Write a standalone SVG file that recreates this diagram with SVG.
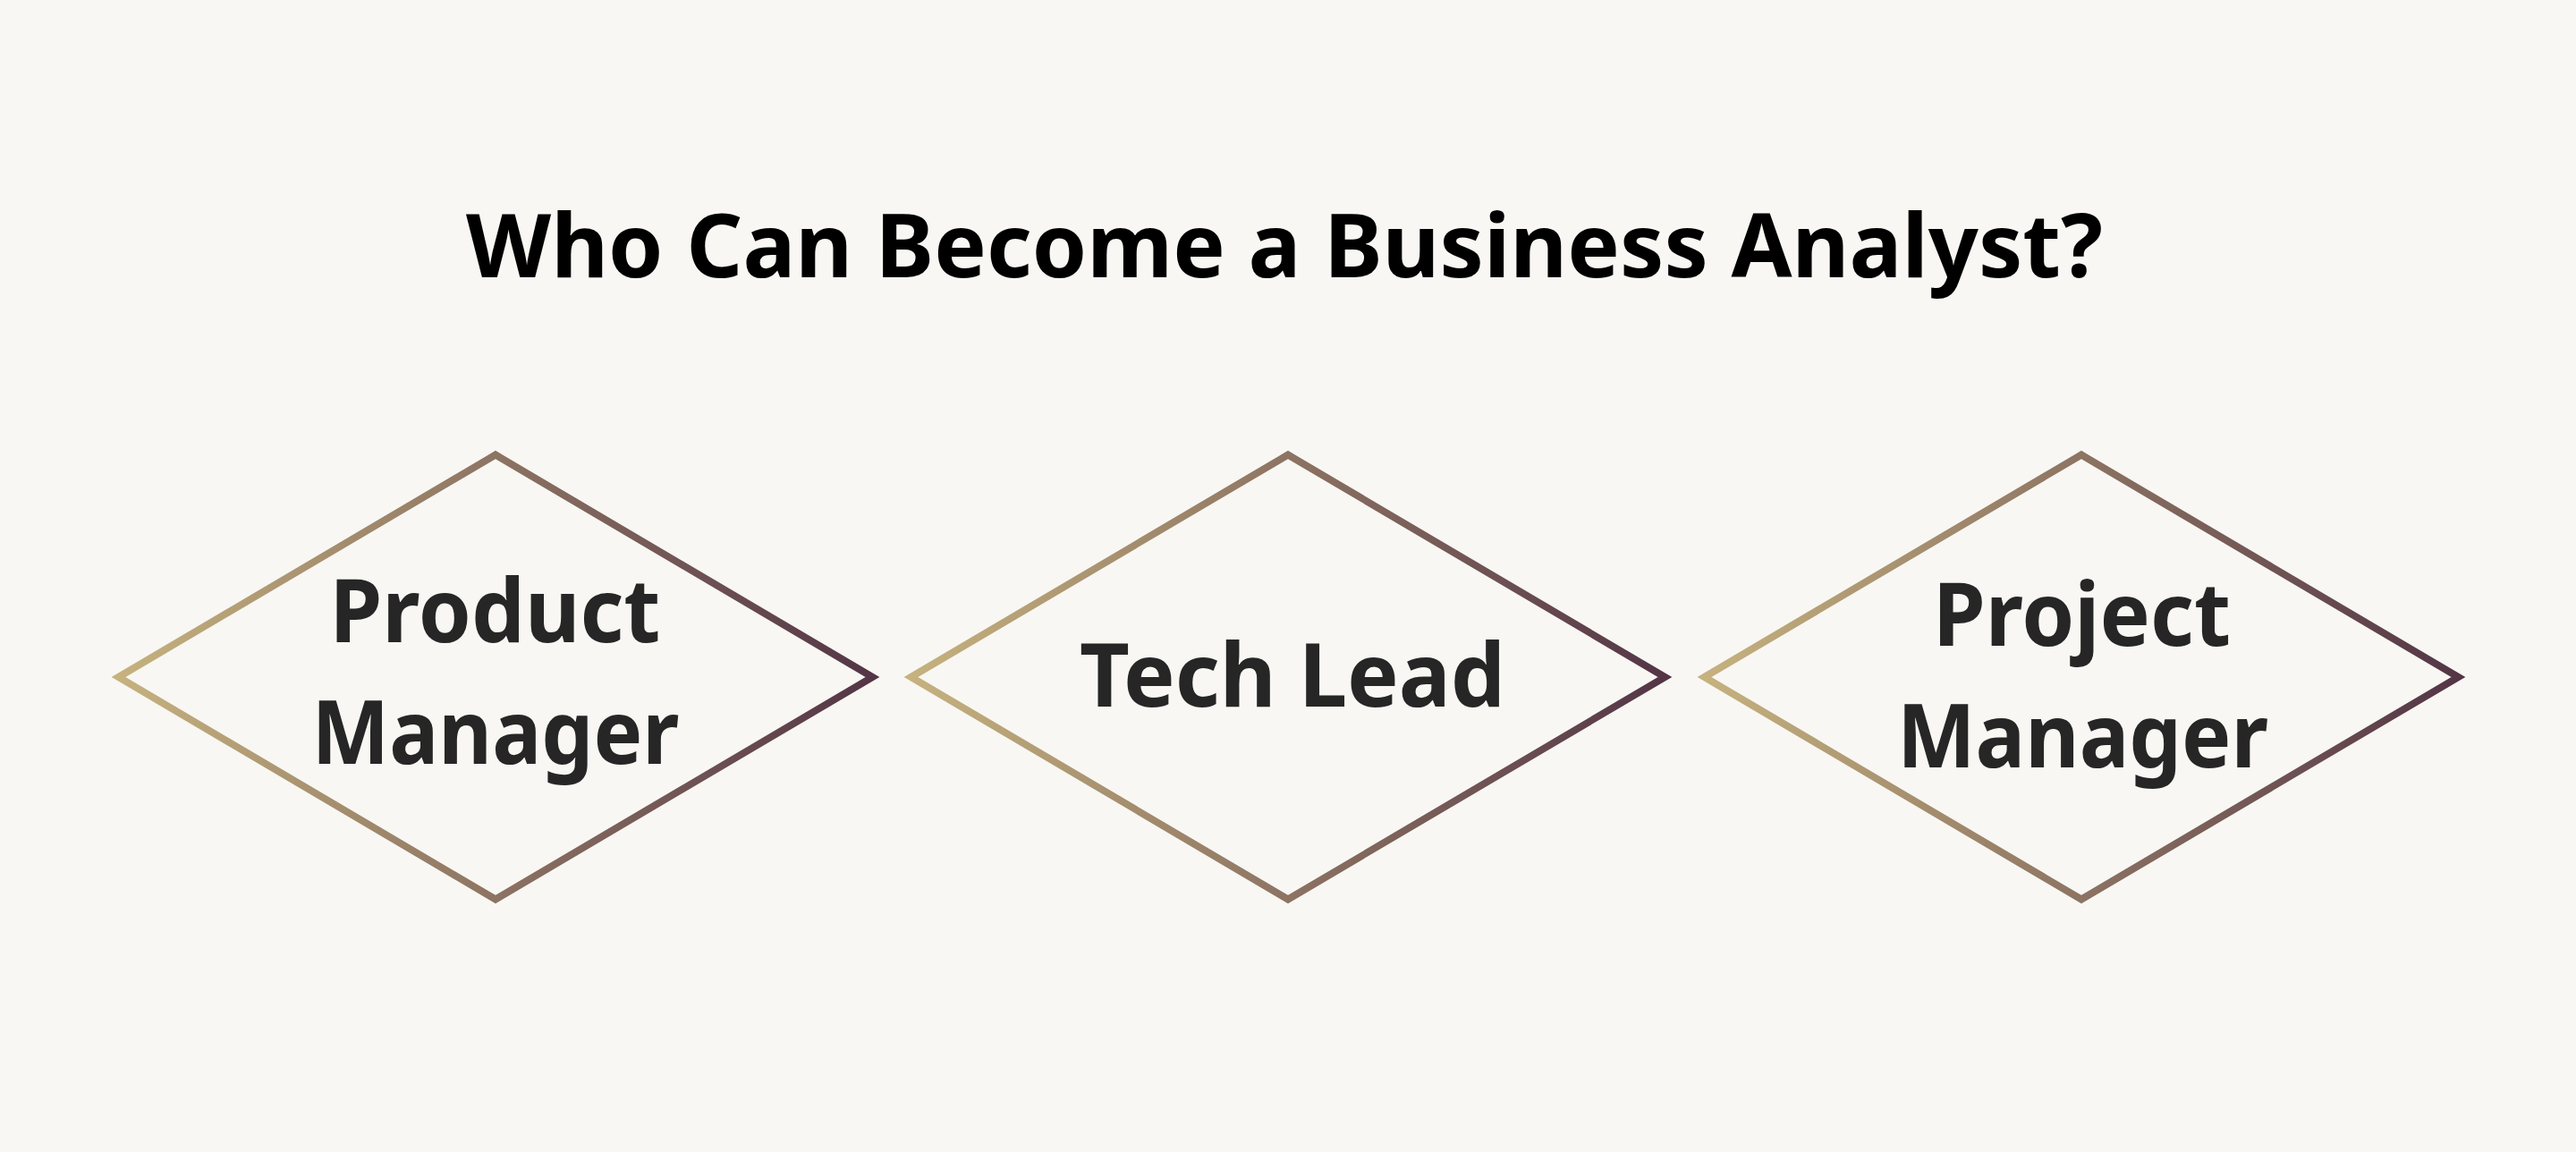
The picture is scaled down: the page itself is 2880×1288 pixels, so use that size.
<svg xmlns="http://www.w3.org/2000/svg" width="2880" height="1288" viewBox="0 0 2880 1288">
  <defs>
    <linearGradient id="edge" x1="0" y1="0" x2="1" y2="0">
      <stop offset="0" stop-color="#c6b27f"/>
      <stop offset="1" stop-color="#533546"/>
    </linearGradient>
    <style>
      .title { font-family: "Noto Sans", "Open Sans", sans-serif; font-weight: 700; font-size: 98px; fill: #000000; text-anchor: middle; }
      .label { font-family: "Noto Sans", "Open Sans", sans-serif; font-weight: 700; font-size: 98px; fill: #262626; text-anchor: middle; }
      .shape { fill: none; stroke: url(#edge); stroke-width: 8; stroke-linejoin: miter; }
    </style>
  </defs>
  <rect x="0" y="0" width="2880" height="1288" fill="#f8f7f3"/>
  <text class="title" x="1436" y="310" textLength="1830" lengthAdjust="spacingAndGlyphs">Who Can Become a Business Analyst?</text>
  <g id="connectors"></g>
  <g id="node-product-manager">
    <path class="shape" d="M132.5 757 L554 508.5 L975.5 757 L554 1005.5 Z"/>
    <text class="label" x="553.5" y="718" textLength="370" lengthAdjust="spacingAndGlyphs">Product</text>
    <text class="label" x="554" y="854" textLength="411" lengthAdjust="spacingAndGlyphs">Manager</text>
  </g>
  <g id="node-tech-lead">
    <path class="shape" d="M1018.5 757 L1440 508.5 L1861.5 757 L1440 1005.5 Z"/>
    <text class="label" x="1445" y="790" textLength="476" lengthAdjust="spacingAndGlyphs">Tech Lead</text>
  </g>
  <g id="node-project-manager">
    <path class="shape" d="M1905.5 757 L2327 508.5 L2748.5 757 L2327 1005.5 Z"/>
    <text class="label" x="2327.5" y="722" textLength="333" lengthAdjust="spacingAndGlyphs">Project</text>
    <text class="label" x="2328.5" y="858" textLength="415" lengthAdjust="spacingAndGlyphs">Manager</text>
  </g>
</svg>
